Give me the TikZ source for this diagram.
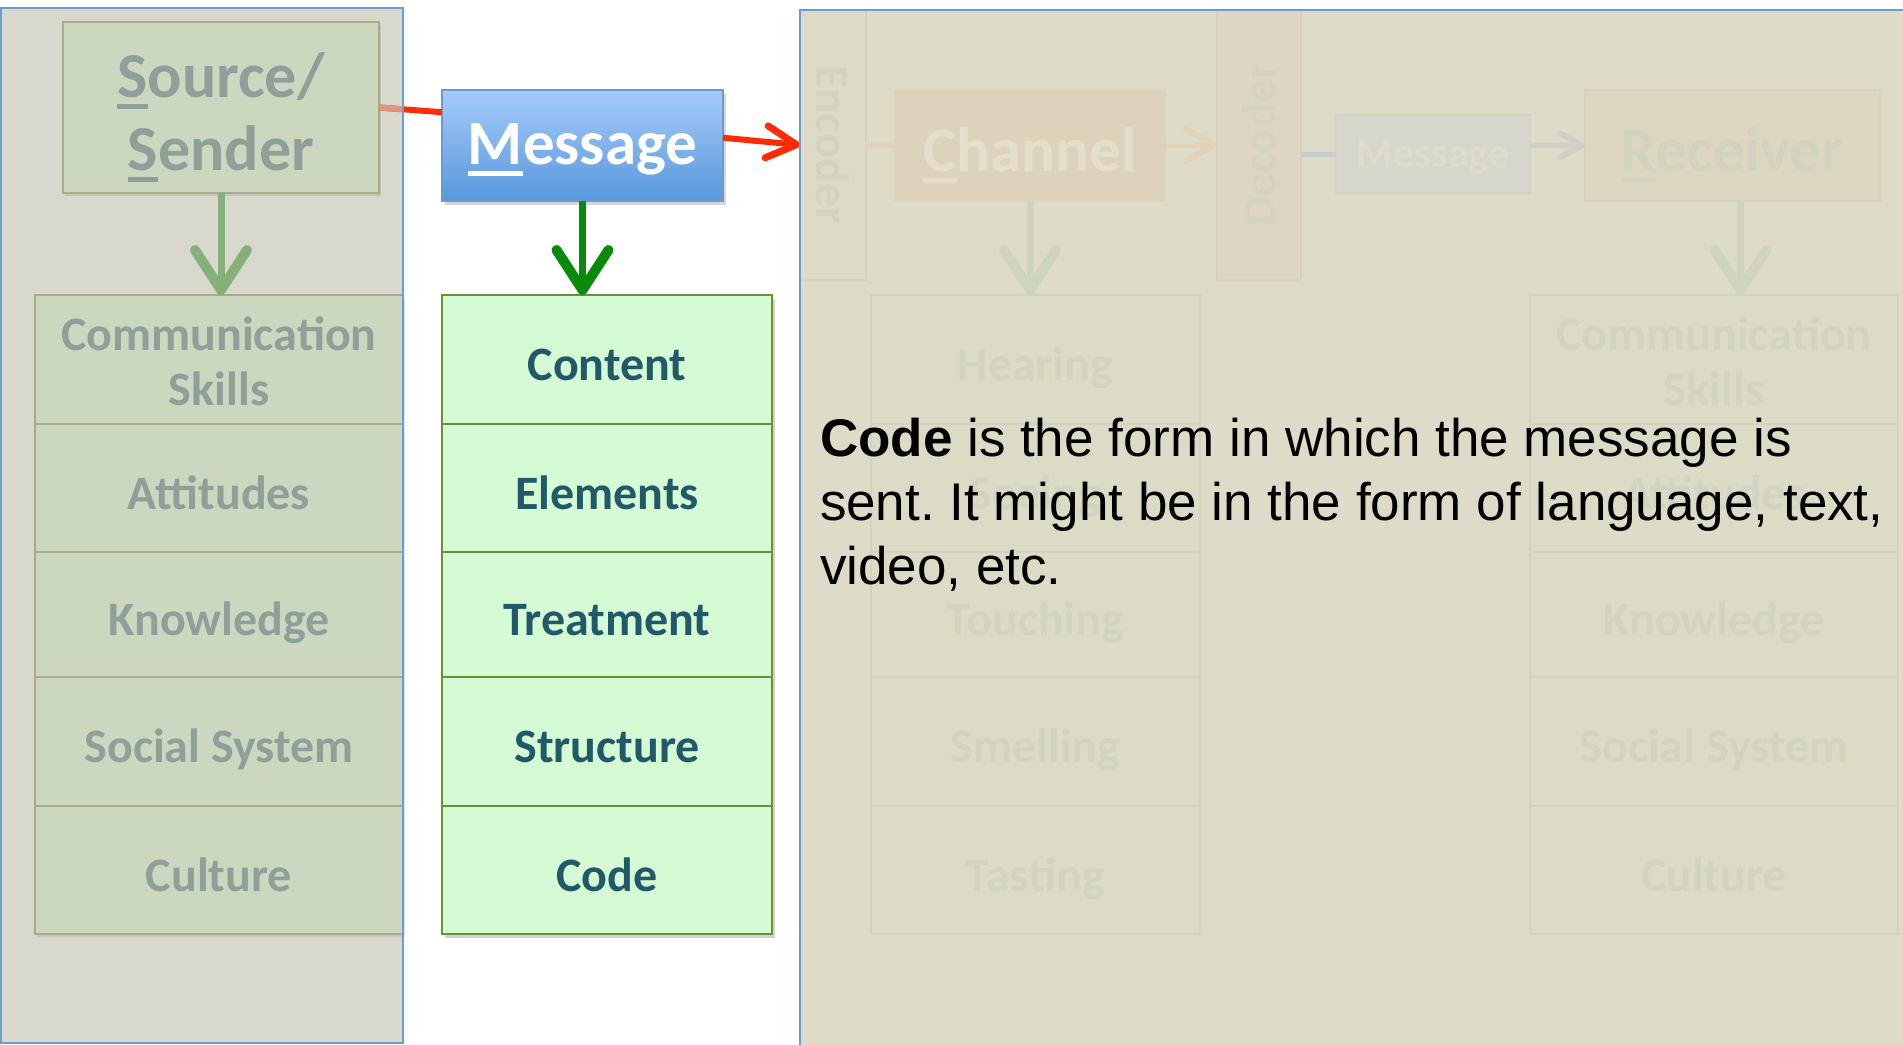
\documentclass[tikz,border=0pt]{standalone}
\usepackage{fontspec}
\setmainfont{Carlito}
\newfontfamily\arialf{Liberation Sans}
\usetikzlibrary{arrows.meta,shadows,calc}
\definecolor{lpbg}{HTML}{D9D8CC}
\definecolor{lfill}{HTML}{CBD7BE}
\definecolor{lbord}{HTML}{A9AB8C}
\definecolor{ltext}{HTML}{8FA09B}
\definecolor{lgreen}{HTML}{86B07A}
\definecolor{panelblue}{HTML}{6D9AD1}
\definecolor{redc}{HTML}{FF2B06}
\definecolor{redfade}{HTML}{DE9682}
\definecolor{greenc}{HTML}{0A8A0A}
\definecolor{mfill}{HTML}{D5FBD5}
\definecolor{mbord}{HTML}{6E8E3A}
\definecolor{mtext}{HTML}{215968}
\definecolor{msgtop}{HTML}{A6CBFB}
\definecolor{msgbot}{HTML}{5898DC}
\definecolor{msgbord}{HTML}{6B9AD0}
\definecolor{rpbg}{HTML}{DEDBC8}
\definecolor{encfill}{HTML}{DDDAC6}
\definecolor{encbord}{HTML}{D5D3BF}
\definecolor{dcfill}{HTML}{DED6C2}
\definecolor{fadetext}{HTML}{D2D3C1}
\definecolor{chfill}{HTML}{DDD3BB}
\definecolor{chtext}{HTML}{E4DFCC}
\definecolor{enclc}{HTML}{DFD2B8}
\definecolor{chac}{HTML}{E2D3B6}
\definecolor{declc}{HTML}{C6CBD0}
\definecolor{fmfill}{HTML}{D6D7CA}
\definecolor{fmbord}{HTML}{D2D3C5}
\definecolor{fmtext}{HTML}{DEDCCB}
\definecolor{mrc}{HTML}{D0D0C9}
\definecolor{rcfill}{HTML}{DDD7C2}
\definecolor{rcbord}{HTML}{D5D1BC}
\definecolor{rctext}{HTML}{D0D3BE}
\definecolor{fgreen}{HTML}{CDD5BC}
\definecolor{colfill}{HTML}{DCDBC6}
\definecolor{colbord}{HTML}{D3D2BF}
\newcommand{\ulc}[1]{\setbox0\hbox{#1}\rlap{\rule[-0.19em]{\wd0}{0.08em}}#1}
\newcommand{\twol}[2]{\begin{tabular}[t]{@{}c@{}}#1\\#2\end{tabular}}
\frenchspacing
\begin{document}
\begin{tikzpicture}[x=1pt,y=-1pt,
  every node/.style={inner sep=0pt,outer sep=0pt},
  lshadow/.style={drop shadow={shadow xshift=2pt,shadow yshift=-3pt,opacity=0.22}},
  srcbox/.style={draw=lbord,line width=2.5pt,fill=lfill,text=ltext,minimum width=316pt,minimum height=171pt,font=\bfseries\fontsize{64}{73}\selectfont,lshadow},
  lrow/.style={draw=lbord,line width=2.5pt,fill=lfill,text=ltext,minimum width=368pt,font=\bfseries\fontsize{48}{55}\selectfont,text height=46pt,text depth=4pt,lshadow},
  mrow/.style={draw=mbord,line width=2.5pt,fill=mfill,text=mtext,minimum width=330pt,font=\bfseries\fontsize{48}{55}\selectfont,text height=46pt,text depth=4pt,drop shadow={shadow xshift=3pt,shadow yshift=-4pt,opacity=0.35}},
  msgbox/.style={draw=msgbord,line width=2pt,top color=msgtop,bottom color=msgbot,text=white,minimum width=281pt,minimum height=111pt,font=\bfseries\fontsize{63}{70}\selectfont,text height=45pt,text depth=8pt,drop shadow={shadow xshift=3pt,shadow yshift=-4pt,opacity=0.3}},
  crow/.style={draw=colbord,line width=2pt,fill=colfill,text=fadetext,minimum width=329pt,font=\bfseries\fontsize{48}{55}\selectfont,text height=46pt,text depth=4pt},
  rrow/.style={crow,minimum width=368pt},
  vbox/.style={draw=encbord,line width=2pt,minimum height=270pt,text=fadetext,font=\bfseries\fontsize{47}{55}\selectfont},
  garrow/.style={draw=lgreen,line width=7pt,-{Straight Barb[length=40pt,width=52pt,line width=10pt,round]}},
  mgarrow/.style={garrow,draw=greenc},
  fgarrow/.style={garrow,draw=fgreen},
  redline/.style={draw=redc,line width=6pt},
  redarrow/.style={redline,-{Straight Barb[length=30pt,width=32pt,line width=7pt,round]}}
]
\useasboundingbox (0,0) rectangle (1903,1044);
\fill[white] (0,0) rectangle (1903,1044);
% panels
\fill[lpbg] (1,8) rectangle (403,1043);
\fill[rpbg] (800,10) rectangle (1910,1050);

% left (source) column
\node[srcbox,text height=50pt,text depth=71pt] (src) at (221,107.5) {\twol{\ulc{S}ource/}{\ulc{S}ender}};
\node[lrow,minimum height=129pt,text height=40pt,text depth=59pt] (l1) at (219,359.5) {\twol{Communication}{Skills}};
\node[lrow,minimum height=128pt] (l2) at (219,488) {Attitudes};
\node[lrow,minimum height=125pt] (l3) at (219,614.5) {Knowledge};
\node[lrow,minimum height=129pt] (l4) at (219,741.5) {Social System};
\node[lrow,minimum height=128pt] (l5) at (219,870) {Culture};
\draw[garrow] (src.south) -- (src.south |- l1.north);

% message column
\node[msgbox] (msg) at (582.5,145.5) {\ulc{M}essage};
\node[mrow,minimum height=129pt] (m1) at (607,359.5) {Content};
\node[mrow,minimum height=128pt] (m2) at (607,488) {Elements};
\node[mrow,minimum height=125pt] (m3) at (607,614.5) {Treatment};
\node[mrow,minimum height=129pt] (m4) at (607,741.5) {Structure};
\node[mrow,minimum height=128pt] (m5) at (607,870) {Code};
\draw[mgarrow] (msg.south) -- (msg.south |- m1.north);

% faded right part
\node[vbox,fill=encfill,minimum width=66pt] (enc) at (833,145) {\rotatebox{-90}{Encoder}};
\node[vbox,fill=dcfill,minimum width=84pt] (dec) at (1259,145) {\rotatebox{90}{Decoder}};
\node[fill=chfill,minimum width=272pt,minimum height=112pt,text=chtext,font=\bfseries\fontsize{63}{70}\selectfont,text height=56pt,text depth=4pt] (ch) at (1030,145) {\ulc{C}hannel};
\node[draw=fmbord,line width=1.5pt,fill=fmfill,minimum width=194pt,minimum height=78pt,text=fmtext,font=\bfseries\fontsize{42}{50}\selectfont,text height=36pt,text depth=10pt] (fm) at (1433,154) {Message};
\node[draw=rcbord,line width=2pt,fill=rcfill,minimum width=295pt,minimum height=111pt,text=rctext,font=\bfseries\fontsize{63}{70}\selectfont,text height=56pt,text depth=4pt] (rc) at (1732.5,145.5) {\ulc{R}eceiver};
\draw[draw=enclc,line width=5pt] (enc.east) -- (ch.west);
\draw[draw=chac,line width=5pt,-{Straight Barb[length=28pt,width=32pt,line width=6pt,round]}] (ch.east) -- (dec.west);
\draw[draw=declc,line width=5pt] (dec.east |- fm.west) -- (fm.west);
\draw[draw=mrc,line width=5pt,-{Straight Barb[length=22pt,width=24pt,line width=6pt,round]}] (fm.east |- rc.west) -- (rc.west);

\node[crow,minimum height=129pt] (c1) at (1035.5,359.5) {Hearing};
\node[crow,minimum height=128pt] (c2) at (1035.5,488) {Seeing};
\node[crow,minimum height=125pt] (c3) at (1035.5,614.5) {Touching};
\node[crow,minimum height=129pt] (c4) at (1035.5,741.5) {Smelling};
\node[crow,minimum height=128pt] (c5) at (1035.5,870) {Tasting};
\node[rrow,minimum height=129pt,text height=40pt,text depth=59pt] (r1) at (1714,359.5) {\twol{Communication}{Skills}};
\node[rrow,minimum height=128pt] (r2) at (1714,488) {Attitudes};
\node[rrow,minimum height=125pt] (r3) at (1714,614.5) {Knowledge};
\node[rrow,minimum height=129pt] (r4) at (1714,741.5) {Social System};
\node[rrow,minimum height=128pt] (r5) at (1714,870) {Culture};
\draw[fgarrow] (ch.south) -- (ch.south |- c1.north);
\draw[fgarrow] ($(rc.south)+(8,0)$) -- ($(rc.south |- r1.north)+(8,0)$);

% red connectors
\draw[redline] (src.east) -- ($(msg.north west)!0.2!(msg.south west)$);
\begin{scope}
  \clip (0,0) rectangle (403,300);
  \draw[redline,draw=redfade] (src.east) -- ($(msg.north west)!0.2!(msg.south west)$);
\end{scope}
\draw[redarrow] ($(msg.north east)!0.43!(msg.south east)$) -- (enc.west);

% panel borders
\draw[panelblue,line width=2.5pt] (1,8) rectangle (403,1043);
\draw[panelblue,line width=2.5pt] (1910,10) -- (800,10) -- (800,1050);

% explanation text
\node[anchor=base west,text=black,font=\arialf\fontsize{53}{64}\selectfont] (code) at (820,456)
  {\begin{tabular}[t]{@{}l@{}}\textbf{Code} is the form in which the message is\\sent. It might be in the form of language, text,\\video, etc.\end{tabular}};
\end{tikzpicture}
\end{document}
